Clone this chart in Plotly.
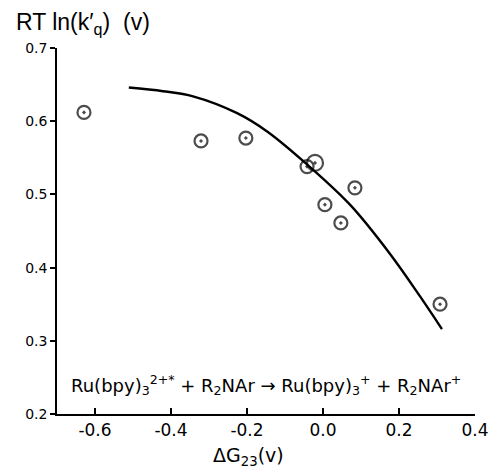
import plotly.graph_objects as go

# Measured points (ΔG23, RT ln k'q)
pt_x = [-0.629, -0.321, -0.203, -0.042, -0.021, 0.005, 0.047, 0.084, 0.308]
pt_y = [0.612, 0.573, 0.577, 0.538, 0.543, 0.486, 0.461, 0.509, 0.350]
pt_size = [13, 13, 13, 13, 16, 13, 13, 13, 13]

# Theoretical curve
curve_x = [-0.511, -0.421, -0.342, -0.226, -0.147, -0.042, 0.071, 0.176, 0.255, 0.313]
curve_y = [0.646, 0.641, 0.634, 0.611, 0.586, 0.541, 0.486, 0.419, 0.361, 0.316]

x_ticks = [-0.6, -0.4, -0.2, 0.0, 0.2, 0.4]
x_ticklabels = ["-0.6", "-0.4", "-0.2", "0.0", "0.2", "0.4"]
y_ticks = [0.2, 0.3, 0.4, 0.5, 0.6, 0.7]
y_ticklabels = ["0.2", "0.3", "0.4", "0.5", "0.6", "0.7"]

FONT = "DejaVu Sans"

fig = go.Figure()
fig.add_trace(go.Scatter(x=curve_x, y=curve_y, mode="lines",
                         line=dict(color="black", width=2.4, shape="spline"),
                         hoverinfo="skip"))
fig.add_trace(go.Scatter(x=pt_x, y=pt_y, mode="markers",
                         marker=dict(symbol="circle-open-dot", size=pt_size,
                                     color="black", line=dict(color="black", width=2.2))))

fig.update_layout(
    width=491, height=470,
    margin=dict(l=57, r=16, t=48, b=56, autoexpand=False),
    paper_bgcolor="white", plot_bgcolor="white",
    showlegend=False,
    font=dict(family=FONT, color="black", size=14),
    xaxis=dict(range=[-0.7, 0.4], tickvals=x_ticks, ticktext=x_ticklabels,
               ticks="inside", ticklen=6, tickwidth=1.5, tickcolor="black",
               showline=True, linecolor="black", linewidth=1.5,
               showgrid=False, zeroline=False, automargin=False,
               tickfont=dict(size=17, family=FONT)),
    yaxis=dict(range=[0.2, 0.7], tickvals=y_ticks, ticktext=y_ticklabels,
               ticks="outside", ticklen=5, tickwidth=1.5, tickcolor="black",
               showline=True, linecolor="black", linewidth=1.5,
               showgrid=False, zeroline=False, automargin=False,
               tickfont=dict(size=14, family=FONT)),
    annotations=[
        dict(text="RT ln(k′<sub>q</sub>)  (v)", xref="paper", yref="paper",
             x=-0.102, y=1.068, xanchor="left", yanchor="middle", showarrow=False,
             font=dict(size=23, family="Liberation Sans")),
        dict(text="ΔG<sub>23</sub>(v)", xref="paper", yref="paper",
             x=0.457, y=-0.117, xanchor="center", yanchor="middle", showarrow=False,
             font=dict(size=19, family=FONT)),
        dict(text="Ru(bpy)<sub>3</sub><sup>2+*</sup> + R<sub>2</sub>NAr → Ru(bpy)<sub>3</sub><sup>+</sup> + R<sub>2</sub>NAr<sup>+</sup>",
             x=-0.15, y=0.24, xref="x", yref="y", showarrow=False,
             xanchor="center", yanchor="middle",
             font=dict(size=18, family=FONT)),
    ],
)

# remove the default page margin so the figure fills the 491x470 window exactly
fig.write_html("out.html",
               config={"displayModeBar": False},
               post_script="document.body.style.margin='0';document.body.style.overflow='hidden';")
